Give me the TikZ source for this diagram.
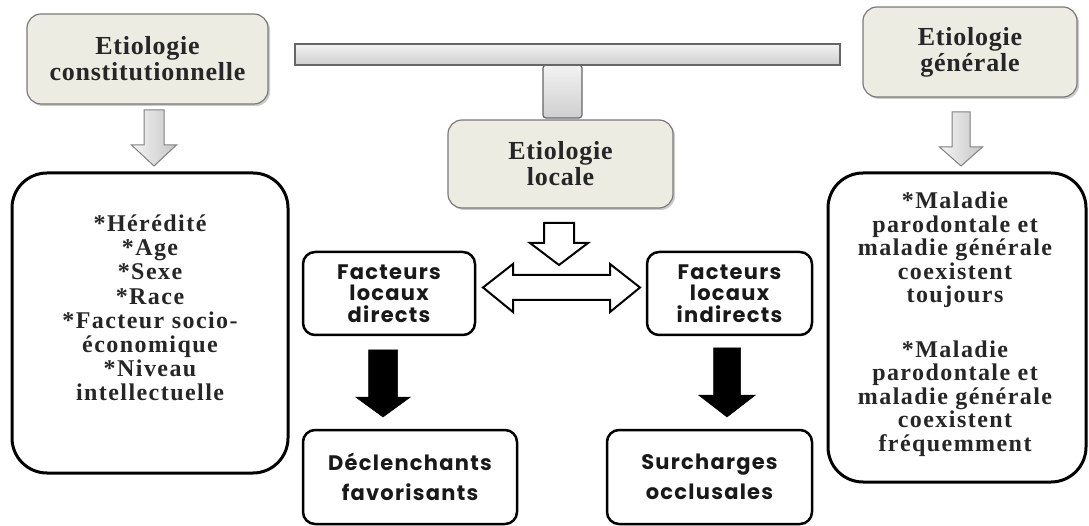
\documentclass[tikz,border=0pt]{standalone}
\usepackage{fontspec}
\setmainfont{Liberation Serif}
\newfontfamily\geo{Poppins}[LetterSpace=6]
\newfontfamily\serifsp{Liberation Serif}[LetterSpace=6]
\newfontfamily\seriftitle{Liberation Serif}[LetterSpace=3]
\usetikzlibrary{shadows,calc}
\definecolor{beige}{HTML}{EDECE3}
\definecolor{bord}{HTML}{7A7A7A}
% #1 style, #2 x, #3 ytop, #4 ytip, #5 half shaft, #6 half head, #7 head length
\newcommand\blkdown[7]{%
  \path[#1] ({#2-#5},#3) -- ({#2+#5},#3) -- ({#2+#5},{#4-#7}) -- ({#2+#6},{#4-#7})
    -- (#2,#4) -- ({#2-#6},{#4-#7}) -- ({#2-#5},{#4-#7}) -- cycle;}
\begin{document}
\begin{tikzpicture}[x=1pt,y=-1pt,
  topbox/.style={draw=bord, line width=1.2pt, fill=beige, rounded corners=14pt,
    drop shadow={shadow xshift=2pt, shadow yshift=-2pt, fill=black!40, opacity=0.5},
    font=\seriftitle\bfseries\fontsize{26}{26}\selectfont, text=black!85, align=center, inner sep=0pt},
  bigbox/.style={draw=black, line width=3pt, rounded corners=35pt, fill=white, inner sep=0pt},
  bigtext/.style={font=\serifsp\bfseries\fontsize{24}{24.2}\selectfont, text=black!85, align=center, inner sep=0pt},
  smallbox/.style={draw=black, line width=2.5pt, rounded corners=12pt, fill=white, align=center, inner sep=0pt,
    font=\geo\bfseries\fontsize{21}{21.5}\selectfont, text=black!90},
  lowbox/.style={smallbox, font=\geo\bfseries\fontsize{21}{30}\selectfont},
  grayarrow/.style={draw=black!50, line width=1pt, left color=gray!8, right color=gray!45, line join=miter},
  hollow/.style={draw=black, line width=2pt, fill=white, line join=miter},
  solid/.style={fill=black, draw=black, line width=0.5pt, line join=miter},
  barstyle/.style={draw=black!60, line width=1.2pt, top color=gray!10, bottom color=gray!38, inner sep=0pt}
]
\useasboundingbox (0,0) rectangle (1089,526);

% bracket bar and stem
\node[barstyle, rounded corners=3pt, minimum width=39pt, minimum height=53pt] (stem) at (562.5,91.5) {};
\node[barstyle, minimum width=545pt, minimum height=21pt] (bar) at (567.5,54.5) {};

% top boxes
\node[topbox, minimum width=241pt, minimum height=90pt] (cons) at (147.5,59) {Etiologie\\constitutionnelle};
\node[topbox, minimum width=214pt, minimum height=90pt] (gen) at (970,52) {Etiologie\\générale};
\node[topbox, minimum width=225pt, minimum height=88pt] (loc) at (560.5,164) {Etiologie\\locale};

% big side boxes
\node[bigbox, minimum width=276pt, minimum height=300pt] (lbox) at (150,323) {};
\node[bigtext] (ltext) at (150,308) {*Hérédité\\*Age\\*Sexe\\*Race\\*Facteur socio-\\économique\\*Niveau\\intellectuelle};
\node[bigbox, minimum width=258pt, minimum height=309pt] (rbox) at (957,327.5) {};
\node[bigtext, font=\serifsp\bfseries\fontsize{24}{23.5}\selectfont] (rtext) at (955,324) {*Maladie\\parodontale et\\maladie générale\\coexistent\\toujours\\[31pt]*Maladie\\parodontale et\\maladie générale\\coexistent\\fréquemment};

% local factor boxes
\node[smallbox, minimum width=172pt, minimum height=83pt] (dir) at (389,293.5) {Facteurs\\locaux\\directs};
\node[smallbox, minimum width=165pt, minimum height=83pt] (ind) at (729.5,293.5) {Facteurs\\locaux\\indirects};
\node[lowbox, minimum width=214pt, minimum height=94pt] (decl) at (410,477) {Déclenchants\\favorisants};
\node[lowbox, minimum width=205pt, minimum height=94pt] (sur) at (709.5,477) {Surcharges\\occlusales};

% block arrows
\blkdown{grayarrow}{154}{110}{166}{10}{22.5}{21}
\blkdown{grayarrow}{961}{112}{166}{9}{21.5}{19}
\blkdown{hollow}{559}{223}{265}{15}{29}{22}
\path[hollow] (483,287.5) -- (513,264) -- (513,275) -- (610,275) -- (610,264) -- (640,287.5)
  -- (610,312) -- (610,300) -- (513,300) -- (513,312) -- cycle;
\blkdown{solid}{383}{350}{417}{14.5}{27.5}{20}
\blkdown{solid}{727}{348}{417}{13.5}{28.5}{22}
\end{tikzpicture}
\end{document}
